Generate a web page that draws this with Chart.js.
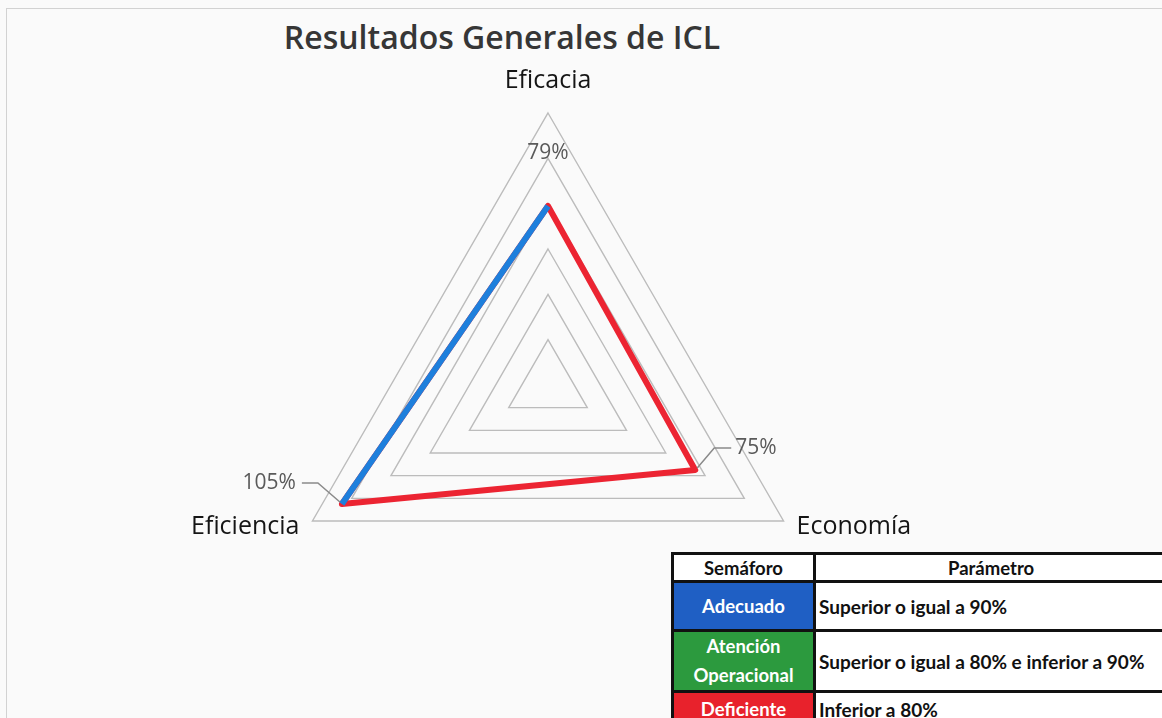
<!DOCTYPE html>
<html lang="es">
<head>
<meta charset="utf-8">
<title>Resultados Generales de ICL</title>
<script src="https://cdn.jsdelivr.net/npm/chart.js@4.4.1/dist/chart.umd.min.js"></script>
<style>
  html, body { margin: 0; padding: 0; }
  body {
    width: 1162px; height: 718px; overflow: hidden; position: relative;
    background: #fafafa; font-family: "Open Sans", sans-serif;
  }
  #marco {
    position: absolute; left: 6px; top: 8px; right: -10px; bottom: -10px;
    border-top: 1px solid #d2d2d2; border-left: 1px solid #d2d2d2;
  }
  #titulo {
    position: absolute; left: 0; top: 15px; width: 1004px; line-height: 44px;
    text-align: center; font-size: 32px; font-weight: 600; color: #363636;
  }
  #chart-container { position: absolute; left: 0; top: 0; width: 1162px; height: 718px; }
  table.semaforo {
    position: absolute; left: 671px; top: 552px; width: 520px;
    border-collapse: collapse; font-family: Lato, sans-serif; font-weight: 700;
    font-size: 19px; color: #111; background: #fff;
  }
  table.semaforo td, table.semaforo th { border: 3px solid #111; padding: 0 3px; }
  table.semaforo th { height: 25px; text-align: center; font-weight: 700; font-size: 18.5px; }
  table.semaforo th.param { text-align: left; padding-left: 132px; }
  table.semaforo td.estado { width: 133px; text-align: center; color: #fff; line-height: 29px; font-size: 18.5px; }
  table.semaforo td.adecuado { background: #1f5fc4; height: 46px; }
  table.semaforo td.atencion { background: #2c9a3e; height: 56px; }
  table.semaforo td.deficiente { background: #e8222c; height: 32px; }
</style>
</head>
<body>
<div id="marco"></div>
<div id="titulo">Resultados Generales de ICL</div>
<div id="chart-container"><canvas id="radarChart"></canvas></div>
<table class="semaforo">
  <tr><th>Semáforo</th><th class="param">Parámetro</th></tr>
  <tr><td class="estado adecuado">Adecuado</td><td>Superior o igual a 90%</td></tr>
  <tr><td class="estado atencion">Atención<br>Operacional</td><td>Superior o igual a 80% e inferior a 90%</td></tr>
  <tr><td class="estado deficiente">Deficiente</td><td>Inferior a 80%</td></tr>
</table>
<script>
// Data (percent)
var categorias = ["Eficacia", "Economía", "Eficiencia"];
var valores = [79, 75, 105];
// points joined by the blue stretch (Eficiencia -> Eficacia)
var tramoAzul = [true, false, true];
var escalaMax = 120;
var escalaPaso = 20;

var azul = "#1e7fdc";
var rojo = "#ec2432";

// Category names and value labels with their leader lines
var etiquetasPlugin = {
    id: "etiquetas",
    afterDatasetsDraw: function (chart) {
        var ctx = chart.ctx;
        var scale = chart.scales.r;
        var meta = chart.getDatasetMeta(0);
        ctx.save();
        ctx.textBaseline = "middle";

        ctx.font = '25px "Open Sans"';
        ctx.fillStyle = "#151515";
        categorias.forEach(function (nombre, i) {
            var v = scale.getPointPositionForValue(i, scale.max);
            if (i === 0) {
                ctx.textAlign = "center";
                ctx.fillText(nombre, v.x, v.y - 32);
            } else if (i === 1) {
                ctx.textAlign = "left";
                ctx.fillText(nombre, v.x + 13, v.y + 6);
            } else {
                ctx.textAlign = "right";
                ctx.fillText(nombre, v.x - 13, v.y + 6);
            }
        });

        ctx.font = '21px "Open Sans"';
        ctx.fillStyle = "#5a5a5a";
        ctx.strokeStyle = "#8a8a8a";
        ctx.lineWidth = 1.5;
        meta.data.forEach(function (p, i) {
            var texto = valores[i] + "%";
            if (i === 0) {
                ctx.textAlign = "center";
                ctx.fillText(texto, p.x, p.y - 53);
            } else if (i === 1) {
                ctx.beginPath();
                ctx.moveTo(p.x + 2, p.y - 2);
                ctx.lineTo(p.x + 19, p.y - 22);
                ctx.lineTo(p.x + 36, p.y - 22);
                ctx.stroke();
                ctx.textAlign = "left";
                ctx.fillText(texto, p.x + 40, p.y - 22);
            } else {
                ctx.beginPath();
                ctx.moveTo(p.x - 2, p.y - 2);
                ctx.lineTo(p.x - 24, p.y - 21);
                ctx.lineTo(p.x - 40, p.y - 21);
                ctx.stroke();
                ctx.textAlign = "right";
                ctx.fillText(texto, p.x - 46, p.y - 21);
            }
        });
        ctx.restore();
    }
};

var ctx = document.getElementById("radarChart").getContext("2d");
new Chart(ctx, {
    type: "radar",
    data: {
        labels: categorias,
        datasets: [
            {
                label: "ICL",
                data: valores,
                fill: false,
                borderWidth: 6,
                borderColor: rojo,
                borderCapStyle: "round",
                borderJoinStyle: "round",
                pointRadius: 0,
                pointHoverRadius: 0,
                order: 2
            },
            {
                label: "Adecuado",
                data: valores.map(function (v, i) { return tramoAzul[i] ? v : null; }),
                fill: false,
                spanGaps: false,
                borderWidth: 6,
                borderColor: azul,
                borderCapStyle: "butt",
                pointRadius: 0,
                pointHoverRadius: 0,
                order: 1
            }
        ]
    },
    options: {
        responsive: true,
        maintainAspectRatio: false,
        animation: false,
        layout: {
            padding: { left: 276, right: 342, top: 113, bottom: 61 }
        },
        plugins: {
            legend: { display: false },
            tooltip: { enabled: false }
        },
        scales: {
            r: {
                min: 0,
                max: escalaMax,
                ticks: { display: false, stepSize: escalaPaso },
                grid: { circular: false, color: "#bcbcbc", lineWidth: 1.4 },
                angleLines: { display: false },
                pointLabels: { display: false }
            }
        }
    },
    plugins: [etiquetasPlugin]
});
</script>
</body>
</html>
